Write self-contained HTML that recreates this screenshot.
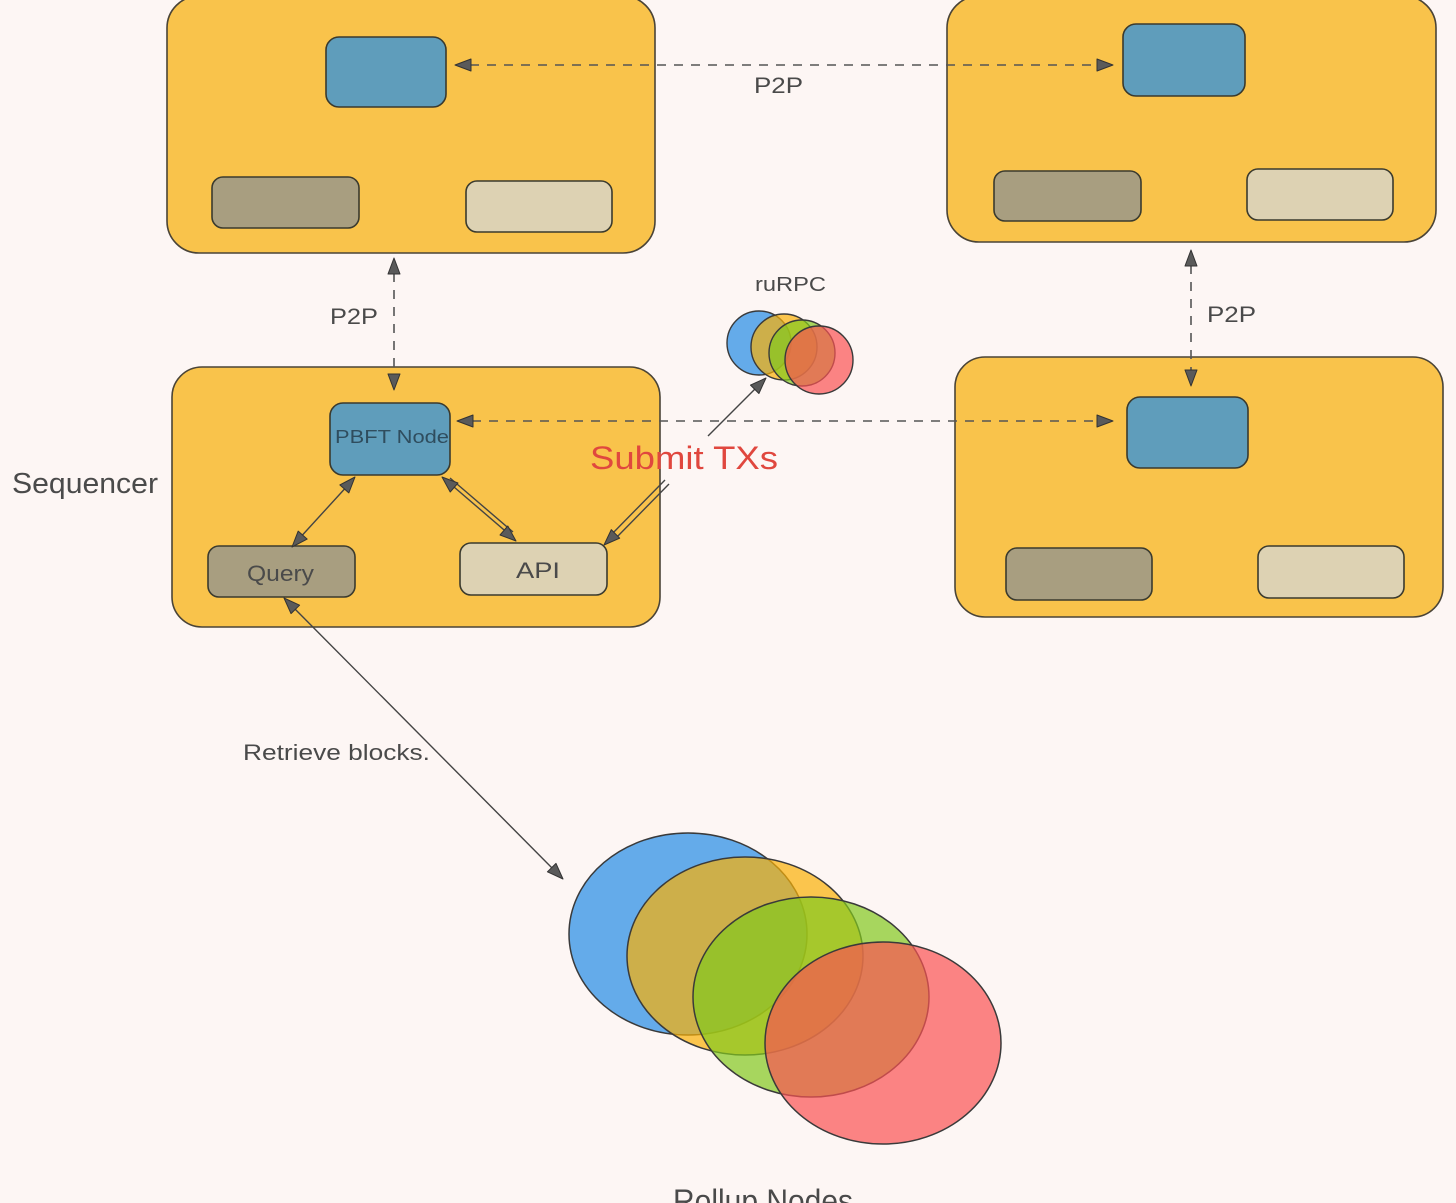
<!DOCTYPE html>
<html>
<head>
<meta charset="utf-8">
<style>
  html,body{margin:0;padding:0;background:#fdf6f4;}
  svg{display:block;}
  text{font-family:"Liberation Sans",sans-serif;fill:#4a4a4a;}
</style>
</head>
<body>
<svg width="1456" height="1203" viewBox="0 0 1456 1203" xmlns="http://www.w3.org/2000/svg">
  <rect x="0" y="0" width="1456" height="1203" fill="#fdf6f4"/>

  <!-- Top-left box -->
  <rect x="167" y="-4" width="488" height="257" rx="32" fill="#f9c34b" stroke="#4a4437" stroke-width="1.6"/>
  <rect x="326" y="37" width="120" height="70" rx="13" fill="#5f9dbb" stroke="#3a3a2e" stroke-width="1.6"/>
  <rect x="212" y="177" width="147" height="51" rx="11" fill="#a89e80" stroke="#3a3a2e" stroke-width="1.6"/>
  <rect x="466" y="181" width="146" height="51" rx="11" fill="#ddd2b3" stroke="#3a3a2e" stroke-width="1.6"/>

  <!-- Top-right box -->
  <rect x="947" y="-4" width="489" height="246" rx="32" fill="#f9c34b" stroke="#4a4437" stroke-width="1.6"/>
  <rect x="1123" y="24" width="122" height="72" rx="13" fill="#5f9dbb" stroke="#3a3a2e" stroke-width="1.6"/>
  <rect x="994" y="171" width="147" height="50" rx="11" fill="#a89e80" stroke="#3a3a2e" stroke-width="1.6"/>
  <rect x="1247" y="169" width="146" height="51" rx="11" fill="#ddd2b3" stroke="#3a3a2e" stroke-width="1.6"/>

  <!-- Middle-left (Sequencer) box -->
  <rect x="172" y="367" width="488" height="260" rx="30" fill="#f9c34b" stroke="#4a4437" stroke-width="1.6"/>
  <rect x="330" y="403" width="120" height="72" rx="13" fill="#5f9dbb" stroke="#3a3a2e" stroke-width="1.6"/>
  <rect x="208" y="546" width="147" height="51" rx="11" fill="#a89e80" stroke="#3a3a2e" stroke-width="1.6"/>
  <rect x="460" y="543" width="147" height="52" rx="11" fill="#ddd2b3" stroke="#3a3a2e" stroke-width="1.6"/>

  <!-- Middle-right box -->
  <rect x="955" y="357" width="488" height="260" rx="30" fill="#f9c34b" stroke="#4a4437" stroke-width="1.6"/>
  <rect x="1127" y="397" width="121" height="71" rx="13" fill="#5f9dbb" stroke="#3a3a2e" stroke-width="1.6"/>
  <rect x="1006" y="548" width="146" height="52" rx="11" fill="#a89e80" stroke="#3a3a2e" stroke-width="1.6"/>
  <rect x="1258" y="546" width="146" height="52" rx="11" fill="#ddd2b3" stroke="#3a3a2e" stroke-width="1.6"/>

  <!-- Dashed connectors -->
  <g stroke="#555" stroke-width="1.6" stroke-dasharray="9 8" fill="none">
    <line x1="470" y1="65" x2="1098" y2="65"/>
    <line x1="472" y1="421" x2="1098" y2="421"/>
    <line x1="394" y1="273" x2="394" y2="376"/>
    <line x1="1191" y1="265" x2="1191" y2="372"/>
  </g>

  <!-- Solid connectors -->
  <g stroke="#444" stroke-width="1.4" fill="none">
    <line x1="350" y1="483" x2="297" y2="541"/>
    <line x1="447" y1="481" x2="510" y2="535"/>
    <line x1="450" y1="478" x2="513" y2="532"/>
    <line x1="665" y1="480" x2="610" y2="536"/>
    <line x1="669" y1="484" x2="614" y2="540"/>
    <line x1="708" y1="436" x2="758" y2="386"/>
    <line x1="291" y1="605" x2="556" y2="872"/>
  </g>

  <!-- Arrowheads -->
  <g fill="#5a5a5a" stroke="#333" stroke-width="1" stroke-linejoin="round">
    <polygon points="455,65 471,59 471,71"/>
    <polygon points="1113,65 1097,59 1097,71"/>
    <polygon points="457,421 473,415 473,427"/>
    <polygon points="1113,421 1097,415 1097,427"/>
    <polygon points="394,258 388,274 400,274"/>
    <polygon points="394,390 388,374 400,374"/>
    <polygon points="1191,250 1185,266 1197,266"/>
    <polygon points="1191,386 1185,370 1197,370"/>
    <polygon points="292,547 307.2,539.1 298.2,531.1"/>
    <polygon points="355,477 348.8,492.9 339.8,484.9"/>
    <polygon points="516,541 500,535 507.8,526"/>
    <polygon points="442,477 450.2,492 458,483"/>
    <polygon points="604,545 619.7,538.2 611.3,529.6"/>
    <polygon points="766,378 758.9,393.5 750.5,385.1"/>
    <polygon points="563,879 547.4,871.8 556,863.4"/>
    <polygon points="284,598 291,613.6 299.6,605.2"/>
  </g>

  <!-- ruRPC small circles -->
  <g stroke="#3a3a3a" stroke-width="1.4">
    <circle cx="759" cy="343" r="32" fill="#228be6" fill-opacity="0.7"/>
    <circle cx="784" cy="347" r="33" fill="#fab005" fill-opacity="0.7"/>
    <circle cx="802" cy="353" r="33" fill="#82c91e" fill-opacity="0.7"/>
    <circle cx="819" cy="360" r="34" fill="#fa5252" fill-opacity="0.7"/>
  </g>

  <!-- Rollup node ellipses -->
  <g stroke="#3a3a3a" stroke-width="1.5">
    <ellipse cx="688" cy="934" rx="119" ry="101" fill="#228be6" fill-opacity="0.7"/>
    <ellipse cx="745" cy="956" rx="118" ry="99" fill="#fab005" fill-opacity="0.7"/>
    <ellipse cx="811" cy="997" rx="118" ry="100" fill="#82c91e" fill-opacity="0.7"/>
    <ellipse cx="883" cy="1043" rx="118" ry="101" fill="#fa5252" fill-opacity="0.7"/>
  </g>

  <!-- Labels -->
  <text x="754" y="93" font-size="22" textLength="49" lengthAdjust="spacingAndGlyphs">P2P</text>
  <text x="330" y="324" font-size="22" textLength="48" lengthAdjust="spacingAndGlyphs">P2P</text>
  <text x="1207" y="322" font-size="22" textLength="49" lengthAdjust="spacingAndGlyphs">P2P</text>
  <text x="755" y="291" font-size="20" textLength="71" lengthAdjust="spacingAndGlyphs">ruRPC</text>
  <text x="12" y="493" font-size="29" textLength="146" lengthAdjust="spacingAndGlyphs">Sequencer</text>
  <text x="335" y="443" font-size="18" textLength="114" lengthAdjust="spacingAndGlyphs" style="fill:#2f4d5e">PBFT Node</text>
  <text x="247" y="581" font-size="22" textLength="67" lengthAdjust="spacingAndGlyphs">Query</text>
  <text x="516" y="578" font-size="22" textLength="44" lengthAdjust="spacingAndGlyphs">API</text>
  <text x="590" y="469" font-size="32" textLength="188" lengthAdjust="spacingAndGlyphs" style="fill:#e0473e">Submit TXs</text>
  <text x="243" y="760" font-size="22" textLength="187" lengthAdjust="spacingAndGlyphs">Retrieve blocks.</text>
  <text x="673" y="1212" font-size="32" textLength="180" lengthAdjust="spacingAndGlyphs">Rollup Nodes</text>
</svg>
</body>
</html>
